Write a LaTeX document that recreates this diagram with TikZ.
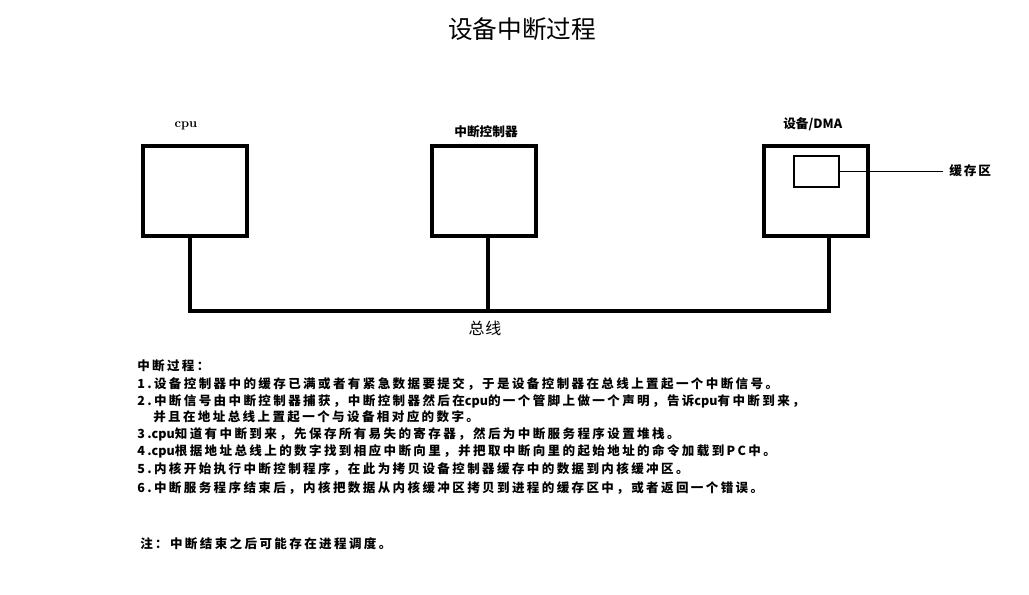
\documentclass[tikz,border=0pt]{standalone}
\usepackage{fontspec}
\usepackage{tikz}
\newfontfamily\cjk{Noto Sans CJK SC}
\newfontfamily\cjkwide[LetterSpace=19]{Noto Sans CJK SC}
\newfontfamily\cjkbus[LetterSpace=5]{Noto Sans CJK SC}
\newfontfamily\cjkbuf[LetterSpace=15]{Noto Sans CJK SC}
\newcommand\lat[1]{{\cjk #1}}

\begin{document}
\begin{tikzpicture}[x=0.75pt,y=-0.75pt,
	box/.style={draw,line width=3pt,minimum width=78pt,minimum height=67.5pt,inner sep=0pt},
	bus/.style={line width=3pt,line join=miter},
	para/.style={anchor=west,inner sep=0pt,font=\cjkwide\bfseries\fontsize{9.4}{11}\selectfont}]
	\useasboundingbox (0,0) rectangle (1029,595);
	% title
	\node (title) [font=\cjk\fontsize{18.5}{20}\selectfont] at (522,29) {设备中断过程};
	% boxes
	\node (cpu)  [box] at (195,191) {};
	\node (ctrl) [box] at (484,191) {};
	\node (dev)  [box] at (816,191) {};
	\node (buf)  [draw,line width=1.5pt,minimum width=33.75pt,minimum height=23.25pt,inner sep=0pt] at (816.5,171.5) {};
	\node (cpuname)  [font=\bfseries\fontsize{9.5}{11}\selectfont] at (186,126) {cpu};
	\node (ctrlname) [font=\cjk\bfseries\fontsize{9.5}{11}\selectfont] at (486,132) {中断控制器};
	\node (devname)  [anchor=west,inner sep=0pt,font=\cjk\bfseries\fontsize{9.5}{11}\selectfont] at (783,124) {设备/DMA};
	% bus
	\coordinate (tap1) at (190,311);
	\coordinate (tap2) at (488,311);
	\coordinate (tap3) at (829,311);
	\draw[bus] (cpu.south -| tap1) -- (tap1) -- (tap3) -- (dev.south -| tap3);
	\draw[bus] (ctrl.south -| tap2) -- (tap2);
	\node (busname) [font=\cjkbus\fontsize{12}{14}\selectfont] at (485,328) {总线};
	% buffer pointer
	\coordinate (bufend) at (943,171.5);
	\draw[line width=0.75pt] (buf.east) -- (bufend);
	\node (bufname) [anchor=west,inner sep=0pt,font=\cjkbuf\bfseries\fontsize{9.5}{11}\selectfont] at (949,171) {缓存区};
	% steps
	\node (proc)  [para] at (137,366) {中断过程：};
	\node (step1) [para] at (137,384) {1.设备控制器中的缓存已满或者有紧急数据要提交，于是设备控制器在总线上置起一个中断信号。};
	\node (step2) [para] at (137,401) {2.中断信号由中断控制器捕获，中断控制器然后在\lat{cpu}的一个管脚上做一个声明，告诉\lat{cpu}有中断到来，};
	\node (step2b)[para] at (153,417) {并且在地址总线上置起一个与设备相对应的数字。};
	\node (step3) [para] at (137,434) {3.\lat{cpu}知道有中断到来，先保存所有易失的寄存器，然后为中断服务程序设置堆栈。};
	\node (step4) [para] at (137,451) {4.\lat{cpu}根据地址总线上的数字找到相应中断向里，并把取中断向里的起始地址的命令加载到PC中。};
	\node (step5) [para] at (137,469) {5.内核开始执行中断控制程序，在此为拷贝设备控制器缓存中的数据到内核缓冲区。};
	\node (step6) [para] at (137,488) {6.中断服务程序结束后，内核把数据从内核缓冲区拷贝到进程的缓存区中，或者返回一个错误。};
	\node (note)  [para] at (140,544) {注：中断结束之后可能存在进程调度。};
\end{tikzpicture}
\end{document}
